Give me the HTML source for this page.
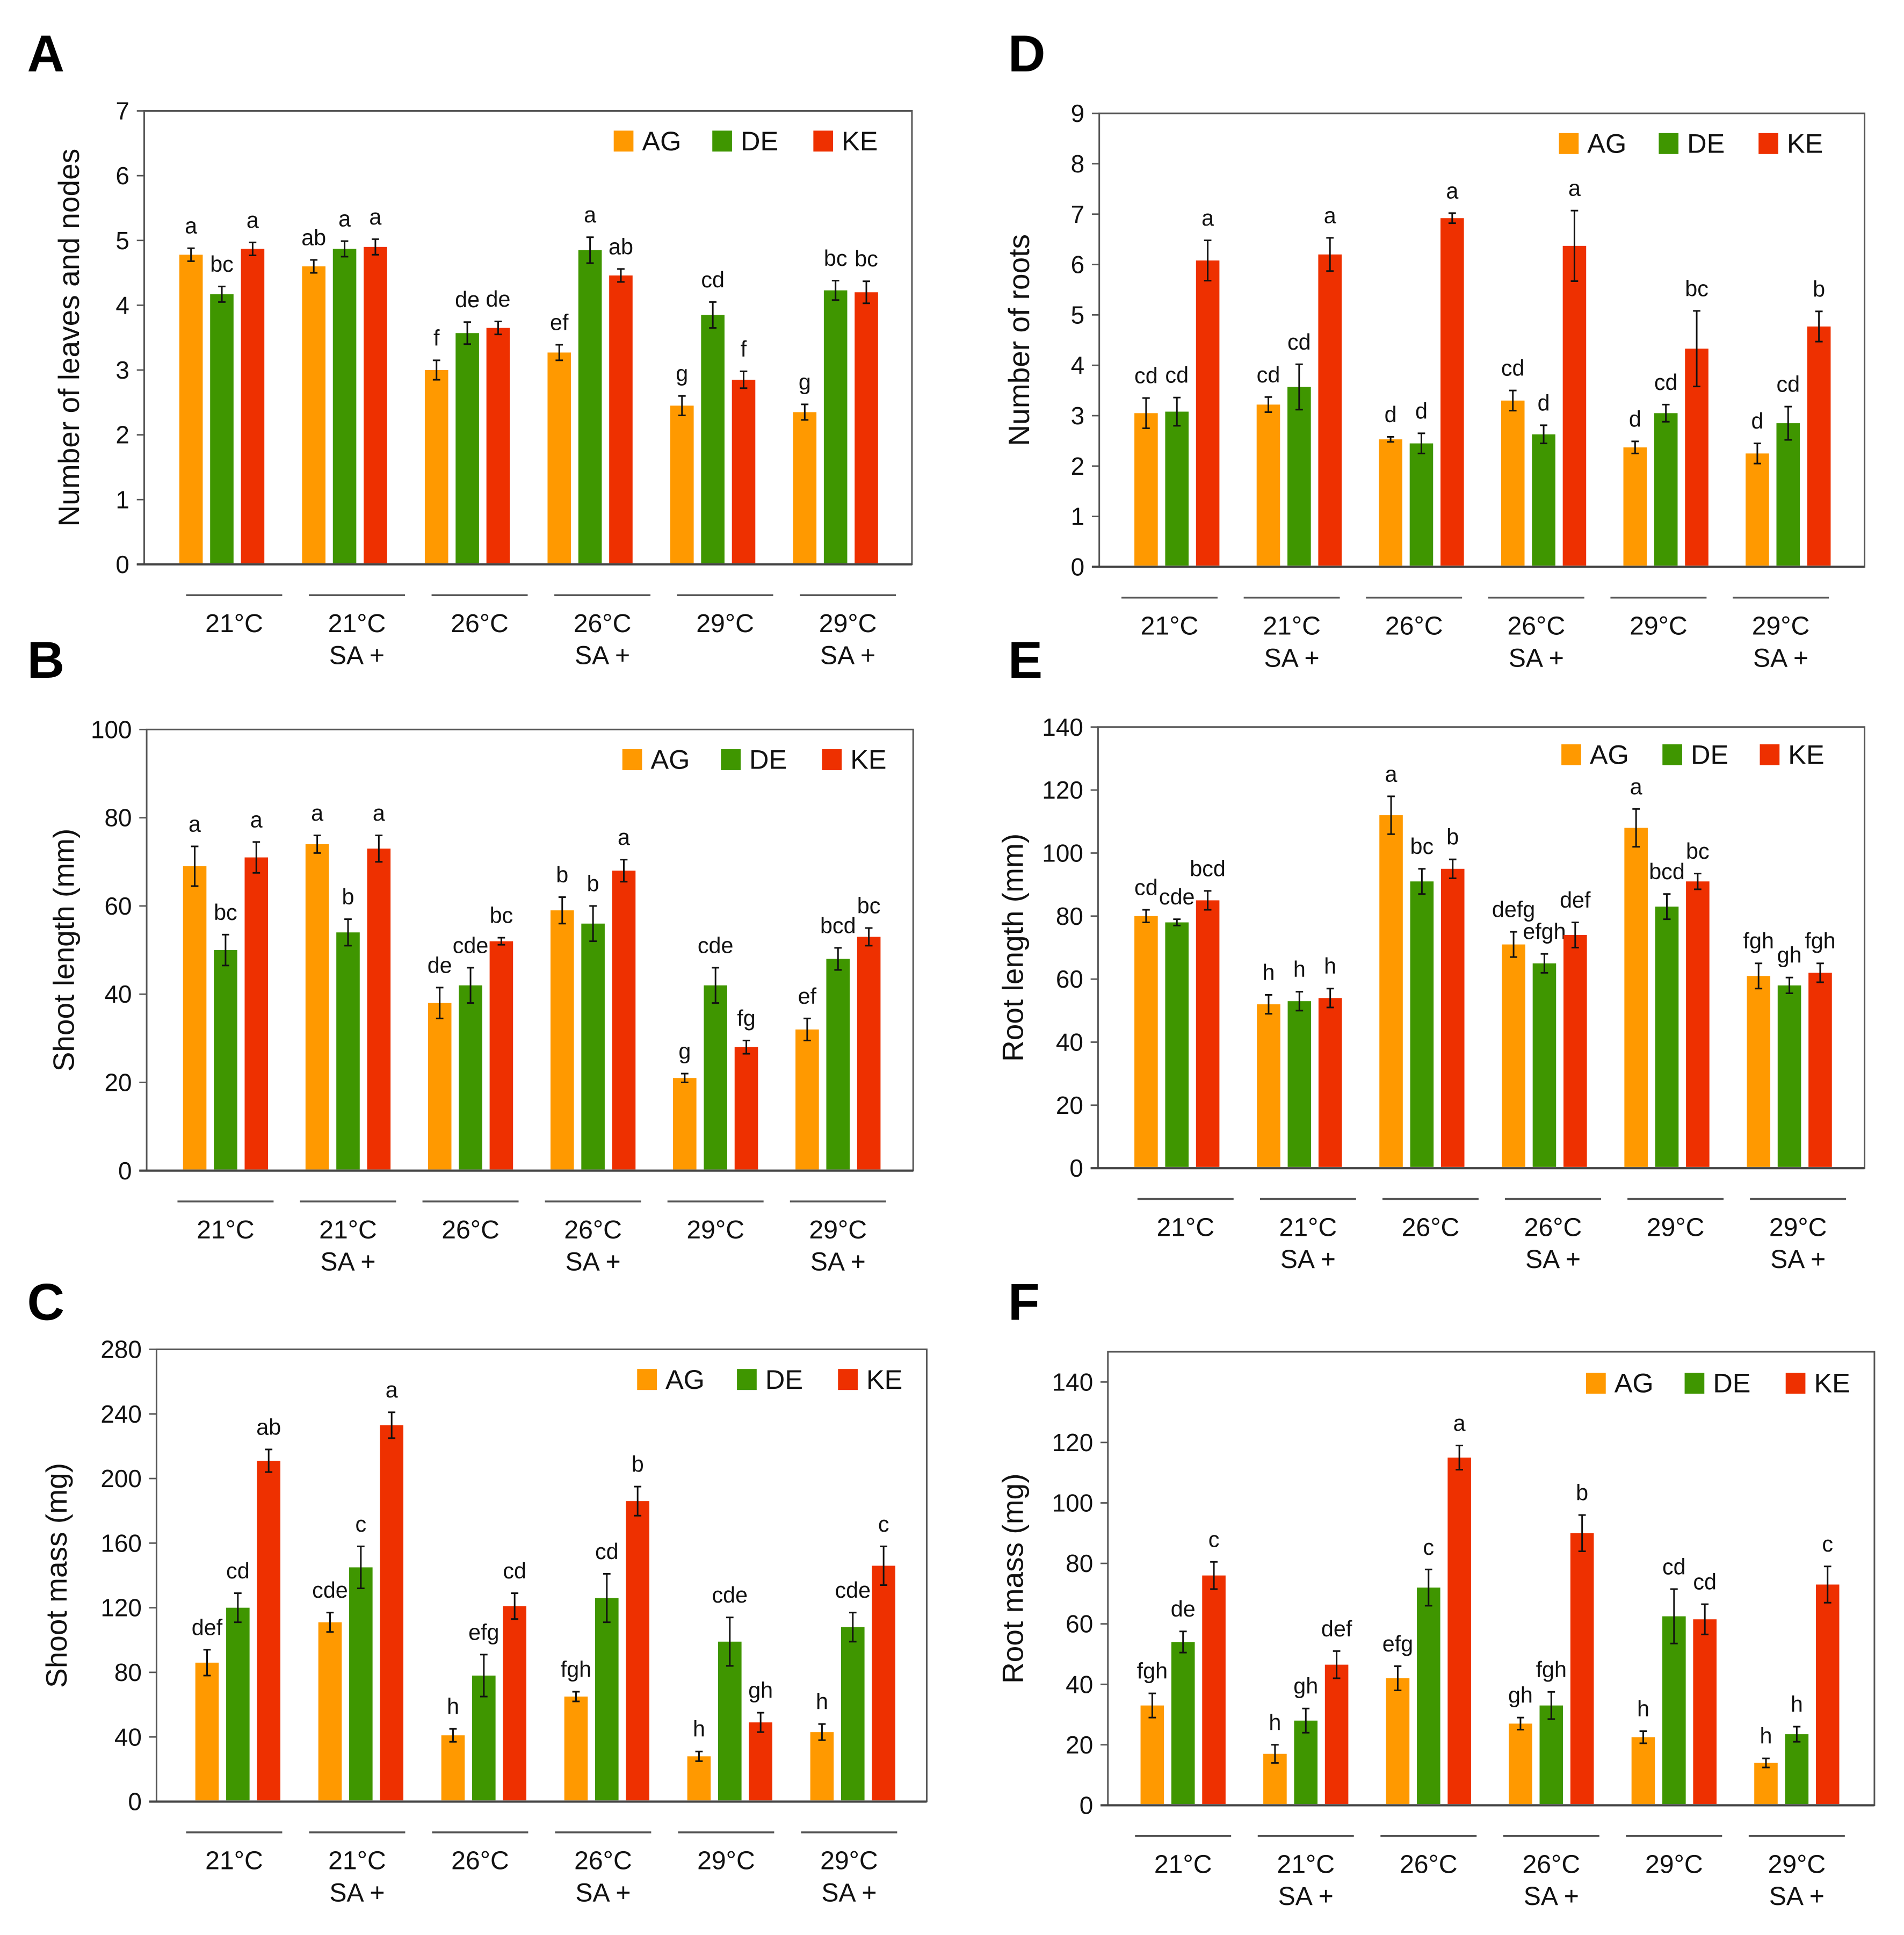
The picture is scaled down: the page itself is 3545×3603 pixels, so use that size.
<!DOCTYPE html>
<html><head><meta charset="utf-8"><style>
html,body{margin:0;padding:0;background:#fff;}
svg{display:block;font-family:"Liberation Sans",Arial,sans-serif;}
</style></head><body>
<svg id="fig" width="3545" height="3603" viewBox="0 0 1545 1570.3" xmlns="http://www.w3.org/2000/svg"></svg>
<script>
const groups = ["21°C","21°C|SA +","26°C","26°C|SA +","29°C","29°C|SA +"];
const series = ["AG","DE","KE"];
const colors = ["#FF9900","#3F9600","#EE3000"];

const aAG=[4.78,4.6,3.0,3.27,2.45,2.35], aAGe=[.1,.1,.15,.12,.15,.12];
const aDE=[4.17,4.87,3.57,4.85,3.85,4.23], aDEe=[.12,.12,.17,.2,.2,.15];
const aKE=[4.87,4.9,3.65,4.46,2.85,4.2], aKEe=[.1,.12,.1,.1,.13,.17];
const aLet=[["a","ab","f","ef","g","g"],["bc","a","de","a","cd","bc"],["a","a","de","ab","f","bc"]];
const aTicks=[0,1,2,3,4,5,6,7];

const bAG=[69,74,38,59,21,32], bAGe=[4.5,2,3.5,3,1,2.5];
const bDE=[50,54,42,56,42,48], bDEe=[3.5,3,4,4,4,2.5];
const bKE=[71,73,52,68,28,53], bKEe=[3.5,3,.8,2.5,1.5,2];
const bLet=[["a","a","de","b","g","ef"],["bc","b","cde","b","cde","bcd"],["a","a","bc","a","fg","bc"]];
const bTicks=[0,20,40,60,80,100];

const cAG=[86,111,41,65,28,43], cAGe=[8,6,4,3,3,5];
const cDE=[120,145,78,126,99,108], cDEe=[9,13,13,15,15,9];
const cKE=[211,233,121,186,49,146], cKEe=[7,8,8,9,6,12];
const cLet=[["def","cde","h","fgh","h","h"],["cd","c","efg","cd","cde","cde"],["ab","a","cd","b","gh","c"]];
const cTicks=[0,40,80,120,160,200,240,280];

const dAG=[3.05,3.22,2.53,3.3,2.37,2.25], dAGe=[.3,.15,.05,.2,.12,.2];
const dDE=[3.08,3.57,2.45,2.63,3.05,2.85], dDEe=[.28,.45,.2,.18,.17,.33];
const dKE=[6.08,6.2,6.92,6.37,4.33,4.77], dKEe=[.4,.33,.1,.7,.75,.3];
const dLet=[["cd","cd","d","cd","d","d"],["cd","cd","d","d","cd","cd"],["a","a","a","a","bc","b"]];
const dTicks=[0,1,2,3,4,5,6,7,8,9];

const eAG=[80,52,112,71,108,61], eAGe=[2,3,6,4,6,4];
const eDE=[78,53,91,65,83,58], eDEe=[1,3,4,3,4,2.5];
const eKE=[85,54,95,74,91,62], eKEe=[3,3,3,4,2.5,3];
const eLet=[["cd","h","a","defg","a","fgh"],["cde","h","bc","efgh","bcd","gh"],["bcd","h","b","def","bc","fgh"]];
const eTicks=[0,20,40,60,80,100,120,140];

const fAG=[33,17,42,27,22.5,14], fAGe=[4,3,4,2,2,1.5];
const fDE=[54,28,72,33,62.5,23.5], fDEe=[3.5,4,6,4.5,9,2.5];
const fKE=[76,46.5,115,90,61.5,73], fKEe=[4.5,4.5,4,6,5,6];
const fLet=[["fgh","h","efg","gh","h","h"],["de","gh","c","fgh","cd","h"],["c","def","a","b","cd","c"]];
const fTicks=[0,20,40,60,80,100,120,140];

const svg=document.getElementById('fig');
const NS="http://www.w3.org/2000/svg";
function mk(tag,attrs,parent,text){const e=document.createElementNS(NS,tag);for(const k in attrs)e.setAttribute(k,attrs[k]);if(text!==undefined)e.textContent=text;(parent||svg).appendChild(e);return e;}

function panel(p){
  const g=mk('g',{});
  
  
  const y=v=>p.y1-(v/p.ymax)*(p.y1-p.y0);
  const xc=i=>p.c0+i*p.sp;
  const t=mk('text',{x:p.lx,y:p.ly,'font-size':42,'font-weight':'bold',fill:'#000'},g,p.id);
  
  
  const fr=mk('rect',{x:p.x0,y:p.y0,width:p.x1-p.x0,height:p.y1-p.y0,fill:'none',stroke:'#555','stroke-width':1.3},g);
  
  
  p.ticks.forEach(v=>{
    mk('line',{x1:p.x0-6,x2:p.x0,y1:y(v),y2:y(v),stroke:'#555','stroke-width':1.2},g);
    const tl=mk('text',{x:p.x0-12,y:y(v)+7,'font-size':20,'text-anchor':'end',fill:'#111'},g,String(v));
    
    
  });
  mk('line',{x1:p.x0-6,x2:p.x1,y1:p.y1,y2:p.y1,stroke:'#444','stroke-width':1.8},g);
  const yt=mk('text',{x:0,y:0,'font-size':24,'text-anchor':'middle',fill:'#111',transform:`translate(${p.tx},${(p.y0+p.y1)/2}) rotate(-90)`},g,p.title);
  
  
  const data=[p.s[0],p.s[1],p.s[2]], errs=[p.e[0],p.e[1],p.e[2]];
  for(let i=0;i<6;i++){
    for(let s=0;s<3;s++){
      const cx=xc(i)+(s-1)*25, v=data[s][i], er=errs[s][i];
      const b=mk('rect',{x:cx-9.5,y:y(v),width:19,height:p.y1-y(v)-1,fill:colors[s]},g);
      
      
      mk('line',{x1:cx,x2:cx,y1:y(v+er),y2:y(v-er),stroke:'#111','stroke-width':1.3},g);
      mk('line',{x1:cx-3,x2:cx+3,y1:y(v+er),y2:y(v+er),stroke:'#111','stroke-width':1.3},g);
      mk('line',{x1:cx-3,x2:cx+3,y1:y(v-er),y2:y(v-er),stroke:'#111','stroke-width':1.3},g);
      const lt=mk('text',{x:cx,y:y(v+er)-12,'font-size':18,'text-anchor':'middle',fill:'#111'},g,p.let[s][i]);
      
      
    }
    const gx=xc(i)+p.lo;
    mk('line',{x1:gx-39,x2:gx+39,y1:p.y1+25,y2:p.y1+25,stroke:'#555','stroke-width':1.5},g);
    const parts=groups[i].split('|');
    parts.forEach((s,k)=>{
      const gl=mk('text',{x:gx,y:p.y1+55+k*26,'font-size':21,'text-anchor':'middle',fill:'#111'},g,s);
      
      
    });
  }
  for(let s=0;s<3;s++){
    const lx=p.leg[s];
    const r=mk('rect',{x:lx,y:p.legy,width:16,height:17,fill:colors[s]},g);
    
    
    const lt=mk('text',{x:lx+23,y:p.legy+16,'font-size':22,fill:'#111'},g,series[s]);
    
    
  }
}

panel({id:'A',lx:22,ly:58,x0:117,x1:740,y0:90,y1:458,ymax:7,ticks:aTicks,c0:180,sp:99.6,lo:10,tx:64,title:'Number of leaves and nodes',s:[aAG,aDE,aKE],e:[aAGe,aDEe,aKEe],let:aLet,leg:[498,578,660],legy:106});
panel({id:'B',lx:22,ly:550,x0:119,x1:741,y0:592,y1:950,ymax:100,ticks:bTicks,c0:183,sp:99.4,lo:0,tx:60,title:'Shoot length (mm)',s:[bAG,bDE,bKE],e:[bAGe,bDEe,bKEe],let:bLet,leg:[505,585,667],legy:608});
panel({id:'C',lx:22,ly:1071,x0:127,x1:752,y0:1095,y1:1462,ymax:280,ticks:cTicks,c0:193,sp:99.8,lo:-3,tx:54,title:'Shoot mass (mg)',s:[cAG,cDE,cKE],e:[cAGe,cDEe,cKEe],let:cLet,leg:[517,598,680],legy:1111});
panel({id:'D',lx:818,ly:58,x0:892,x1:1513,y0:92,y1:460,ymax:9,ticks:dTicks,c0:955,sp:99.2,lo:-6,tx:835,title:'Number of roots',s:[dAG,dDE,dKE],e:[dAGe,dDEe,dKEe],let:dLet,leg:[1265,1346,1427],legy:108});
panel({id:'E',lx:818,ly:550,x0:891,x1:1513,y0:590,y1:948,ymax:140,ticks:eTicks,c0:955,sp:99.4,lo:7,tx:830,title:'Root length (mm)',s:[eAG,eDE,eKE],e:[eAGe,eDEe,eKEe],let:eLet,leg:[1267,1349,1428],legy:604});
panel({id:'F',lx:818,ly:1071,x0:899,x1:1521,y0:1097,y1:1465,ymax:150,ticks:fTicks,c0:960,sp:99.6,lo:0,tx:830,title:'Root mass (mg)',s:[fAG,fDE,fKE],e:[fAGe,fDEe,fKEe],let:fLet,leg:[1287,1367,1449],legy:1114});
</script>
</body></html>
